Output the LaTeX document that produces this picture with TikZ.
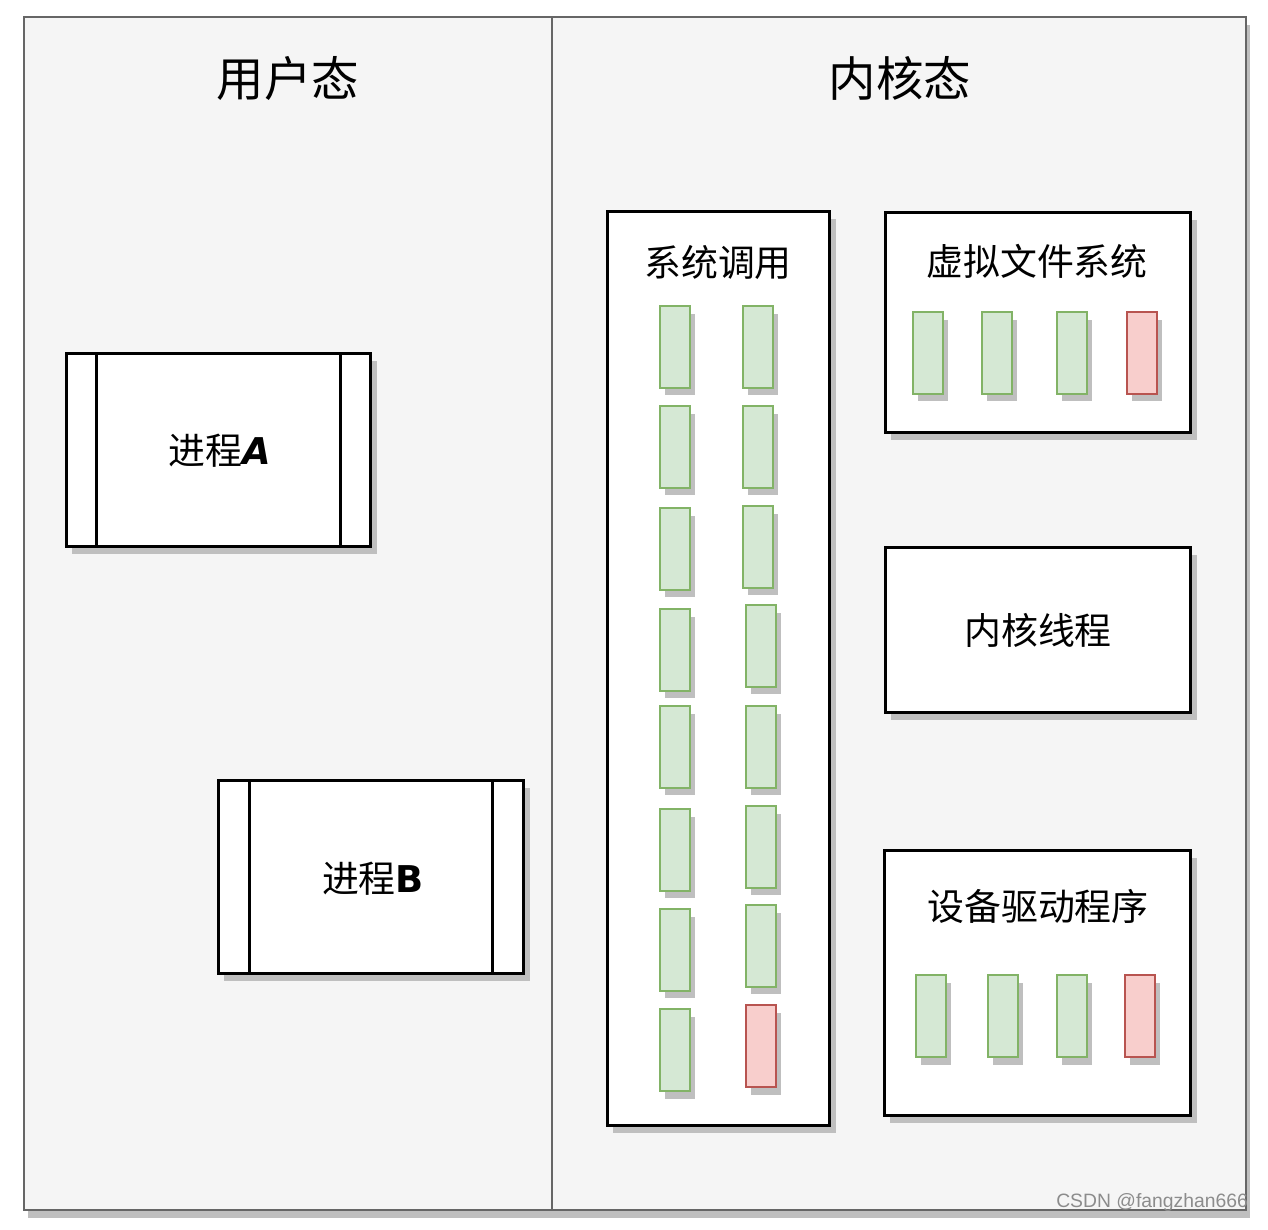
\documentclass[tikz,border=0pt]{standalone}
\usepackage{fontspec}
\setmainfont{Noto Sans CJK SC}
\newfontfamily\latin{DejaVu Sans}
\newfontfamily\wmfont{Liberation Sans}
\usetikzlibrary{shapes,positioning,shadows}

\definecolor{lanefill}{HTML}{F5F5F5}
\definecolor{lanedraw}{HTML}{666666}
\definecolor{okfill}{HTML}{D5E8D4}
\definecolor{okdraw}{HTML}{82B366}
\definecolor{badfill}{HTML}{F8CECC}
\definecolor{baddraw}{HTML}{B85450}
\definecolor{shade}{HTML}{BFBFBF}

\tikzset{
  lane/.style={draw=lanedraw, fill=lanefill, line width=1.5pt, outer sep=0pt,
    drop shadow={shadow xshift=0.08cm, shadow yshift=-0.16cm, fill=shade, opacity=1}},
  title/.style={font=\fontsize{27pt}{32pt}\selectfont},
  label/.style={font=\fontsize{21pt}{25pt}\selectfont},
  frame/.style={draw=black, fill=white, line width=1.7pt, outer sep=0pt,
    drop shadow={shadow xshift=0.12cm, shadow yshift=-0.15cm, fill=shade, opacity=1}},
  procline/.style={draw=black, line width=1.7pt},
  slot/.style={draw=okdraw, fill=okfill, line width=1.5pt, inner sep=0pt, outer sep=0pt,
    minimum width=0.6cm, minimum height=1.64cm,
    drop shadow={shadow xshift=0.1cm, shadow yshift=-0.15cm, fill=shade, opacity=1}},
  bad/.style={draw=baddraw, fill=badfill},
  wm/.style={font=\wmfont\fontsize{11pt}{13pt}\selectfont, text=black!45}
}

\begin{document}
\begin{tikzpicture}[x=0.02cm, y=-0.02cm]
  \useasboundingbox (0,0) rectangle (1268,1230);

  % user space and kernel space lanes
  \node[lane, minimum width=10.56cm, minimum height=23.86cm] (user) at (288,613.5) {};
  \node[lane, minimum width=13.88cm, minimum height=23.86cm] (kernel) at (899,613.5) {};
  \node[title] (userT) at (288,78) {用户态};
  \node[title] (kernelT) at (900,78) {内核态};

  % process A, with its two side bars
  \node[frame, minimum width=6.1cm, minimum height=3.88cm] (procA) at (218.5,450) {};
  \draw[procline] ([xshift=0.6cm]procA.north west) -- ([xshift=0.6cm]procA.south west);
  \draw[procline] ([xshift=-0.6cm]procA.north east) -- ([xshift=-0.6cm]procA.south east);
  \node[label] (procAT) at (220,451) {进程{\latin\bfseries\itshape A}};

  % process B
  \node[frame, minimum width=6.12cm, minimum height=3.88cm] (procB) at (371,877) {};
  \draw[procline] ([xshift=0.62cm]procB.north west) -- ([xshift=0.62cm]procB.south west);
  \draw[procline] ([xshift=-0.62cm]procB.north east) -- ([xshift=-0.62cm]procB.south east);
  \node[label] (procBT) at (373,879) {进程{\latin\bfseries B}};

  % system call table
  \node[frame, minimum width=4.46cm, minimum height=18.3cm] (sys) at (718.5,668.5) {};
  \node[label] (sysT) at (718,262) {系统调用};
  \foreach \y [count=\i] in {347,447,549,650,747,850,950,1050}
    \node[slot] (sysL\i) at (675,\y) {};
  \foreach \x/\y [count=\i] in {758/347,758/447,758/547,761/646,761/747,761/847,761/946}
    \node[slot] (sysR\i) at (\x,\y) {};
  \node[slot, bad] (sysR8) at (761,1046) {};

  % virtual file system
  \node[frame, minimum width=6.12cm, minimum height=4.42cm] (vfs) at (1038,322.5) {};
  \node[label] (vfsT) at (1037,261) {虚拟文件系统};
  \foreach \x [count=\i] in {928,997,1072}
    \node[slot] (vfs\i) at (\x,353) {};
  \node[slot, bad] (vfs4) at (1142,353) {};

  % kernel thread
  \node[frame, minimum width=6.12cm, minimum height=3.32cm] (kthread) at (1038,630) {};
  \node[label] (kthreadT) at (1038,630) {内核线程};

  % device drivers
  \node[frame, minimum width=6.14cm, minimum height=5.32cm] (drv) at (1037.5,983) {};
  \node[label] (drvT) at (1038,906) {设备驱动程序};
  \foreach \x [count=\i] in {931,1003,1072}
    \node[slot] (drv\i) at (\x,1016) {};
  \node[slot, bad] (drv4) at (1140,1016) {};

  % watermark
  \node[wm, anchor=south east] (mark) at (1254,1218) {CSDN @fangzhan666};
\end{tikzpicture}
\end{document}
